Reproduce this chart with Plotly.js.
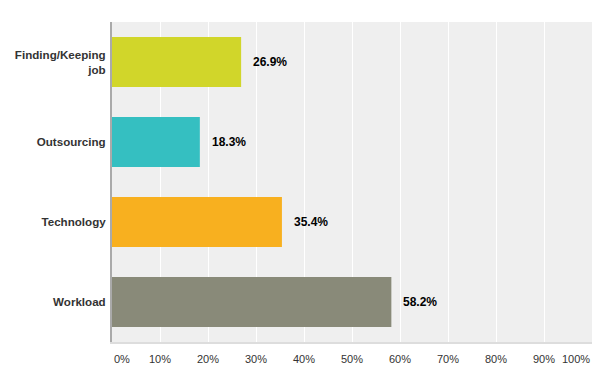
<!DOCTYPE html>
<html>
<head>
<meta charset="utf-8">
<script src="https://cdn.plot.ly/plotly-3.0.1.min.js"></script>
<style>html,body{margin:0;padding:0;background:#fff;}#chart{width:611px;height:384px;}</style>
</head>
<body>
<div id="chart"></div>
<script>
const categories = ["Finding/Keeping<br>job", "Outsourcing", "Technology", "Workload"];
const values = [26.9, 18.3, 35.4, 58.2];
const colors = ["#d1d62a", "#35bfc1", "#f8b01f", "#898a79"];
const tickVals = [0, 10, 20, 30, 40, 50, 60, 70, 80, 90, 100];
const tickText = tickVals.map(v => v + "%");

const trace = {
  type: "bar",
  orientation: "h",
  y: categories,
  x: values,
  marker: {color: colors},
  width: 0.625,
  hoverinfo: "none"
};

const annotations = values.map((v, i) => ({
  x: v, y: categories[i], xref: "x", yref: "y",
  text: v.toFixed(1) + "%", showarrow: false,
  xanchor: "left", xshift: 10,
  font: {family: "Liberation Sans, Arial, sans-serif", size: 12, color: "#000", weight: "bold"}
}));

// x tick labels drawn as annotations so the end labels can sit inside the plot width
tickVals.forEach((v, i) => {
  let anchor = "center", shift = 0;
  if (v === 0) { anchor = "left"; shift = 0; }
  if (v === 100) { anchor = "right"; shift = 0; }
  annotations.push({
    x: v, y: 0, xref: "x", yref: "paper",
    text: tickText[i], showarrow: false,
    xanchor: anchor, yanchor: "top", yshift: -9, xshift: shift,
    font: {family: "Liberation Sans, Arial, sans-serif", size: 11, color: "#333"}
  });
});

const layout = {
  width: 611, height: 384,
  margin: {l: 112, r: 19, t: 22, b: 42},
  paper_bgcolor: "#ffffff",
  plot_bgcolor: "#efefef",
  showlegend: false,
  font: {family: "Liberation Sans, Arial, sans-serif", size: 11, color: "#333"},
  xaxis: {
    range: [0, 100], tickvals: tickVals, showticklabels: false,
    showgrid: true, gridcolor: "#ffffff", gridwidth: 1,
    zeroline: false, showline: true, linecolor: "#dddddd", linewidth: 2,
    ticks: "", ticklen: 0,
    fixedrange: true
  },
  yaxis: {
    autorange: "reversed",
    showgrid: false, zeroline: false,
    showline: true, linecolor: "#aaaaaa", linewidth: 2,
    ticks: "", ticklen: 0, ticklabelstandoff: 2,
    tickfont: {size: 11.6, color: "#333", weight: "bold"},
    fixedrange: true
  },
  annotations: annotations
};

Plotly.newPlot("chart", [trace], layout, {displayModeBar: false, staticPlot: true});
</script>
</body>
</html>
